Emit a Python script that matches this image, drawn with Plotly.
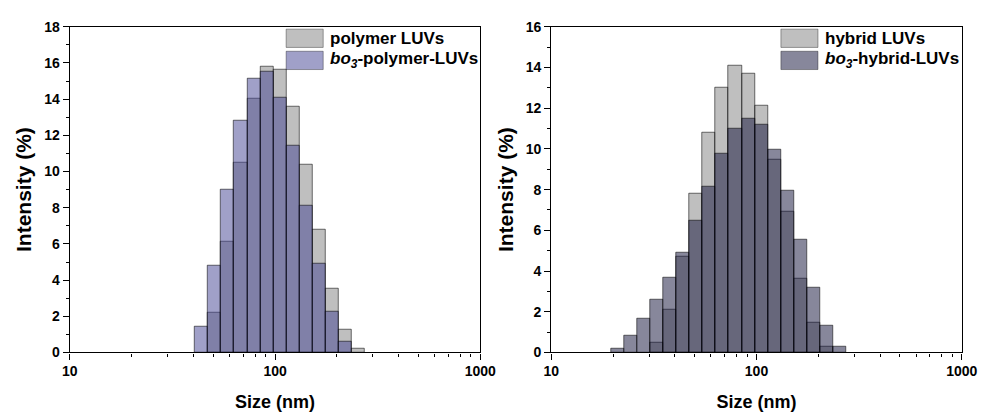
import math
import plotly.graph_objects as go

# Size classes (nm), log-spaced DLS bins
sizes = [21.04, 24.36, 28.21, 32.67, 37.84, 43.82, 50.75, 58.77, 68.06,
         78.82, 91.28, 105.7, 122.4, 141.8, 164.2, 190.1, 220.2, 255.0]

# Left panel: polymer LUVs vs bo3-polymer-LUVs (intensity %)
polymer_luvs = [None, None, None, None, None, None, 2.2, 6.1, 10.5,
                14.0, 15.8, 15.6, 13.6, 10.4, 6.8, 3.55, 1.25, 0.18]
bo3_polymer_luvs = [None, None, None, None, None, 1.45, 4.8, 9.0, 12.8,
                    15.1, 15.5, 14.1, 11.4, 8.1, 4.9, 2.25, 0.6, None]

# Right panel: hybrid LUVs vs bo3-hybrid-LUVs (intensity %)
hybrid_luvs = [None, None, None, 0.5, 2.1, 4.72, 7.8, 10.8, 13.0,
               14.1, 13.7, 12.1, 9.45, 6.9, 3.6, 1.45, 0.28, None]
bo3_hybrid_luvs = [0.17, 0.8, 1.67, 2.6, 3.65, 4.92, 6.48, 8.15, 9.78,
                   11.0, 11.5, 11.2, 9.95, 7.95, 5.55, 3.2, 1.32, 0.27]

# Bin edges: geometric midpoints between neighbouring size classes
n = len(sizes)
inner = [math.sqrt(sizes[i] * sizes[i + 1]) for i in range(n - 1)]
first = sizes[0] ** 2 / inner[0]
last = sizes[-1] ** 2 / inner[-1]
edges = [first] + inner + [last]
bar_x = [(edges[i] + edges[i + 1]) / 2 for i in range(n)]
bar_w = [edges[i + 1] - edges[i] for i in range(n)]

W, H = 995, 415
FONT = "Liberation Sans, Arial, sans-serif"

def px(x):
    return x / W

def py(y):
    return 1 - y / H

grey = "rgba(128,128,128,0.5)"
blue = "rgba(65,65,145,0.5)"
slate = "rgba(15,15,55,0.5)"
edge = dict(color="rgba(0,0,0,0.55)", width=1)

fig = go.Figure()
fig.add_trace(go.Bar(x=bar_x, y=polymer_luvs, width=bar_w, name="polymer LUVs",
                     marker=dict(color=grey, line=edge), xaxis="x", yaxis="y"))
fig.add_trace(go.Bar(x=bar_x, y=bo3_polymer_luvs, width=bar_w, name="bo3-polymer-LUVs",
                     marker=dict(color=blue, line=edge), xaxis="x", yaxis="y"))
fig.add_trace(go.Bar(x=bar_x, y=hybrid_luvs, width=bar_w, name="hybrid LUVs",
                     marker=dict(color=grey, line=edge), xaxis="x2", yaxis="y2"))
fig.add_trace(go.Bar(x=bar_x, y=bo3_hybrid_luvs, width=bar_w, name="bo3-hybrid-LUVs",
                     marker=dict(color=slate, line=edge), xaxis="x2", yaxis="y2"))

tickfont = dict(family=FONT, size=14, color="black", weight="bold")
xtitlefont = dict(family=FONT, size=18, color="black", weight="bold")
ytitlefont = dict(family=FONT, size=21, color="black", weight="bold")

def xaxis(domain, anchor):
    return dict(domain=domain, anchor=anchor, type="log", range=[1, 3],
                tickvals=[10, 100, 1000], ticktext=["10", "100", "1000"],
                ticks="outside", ticklen=6, tickwidth=1.3, tickcolor="black",
                minor=dict(ticks="outside", ticklen=3, tickwidth=1.2,
                           tickcolor="black", dtick="D1", showgrid=False),
                showline=True, linecolor="black", linewidth=1.3, mirror=True,
                showgrid=False, zeroline=False, tickfont=tickfont,
                title=dict(text="Size (nm)", font=xtitlefont, standoff=16))

def yaxis(domain, anchor, ymax):
    return dict(domain=domain, anchor=anchor, range=[0, ymax], dtick=2,
                ticks="outside", ticklen=6, tickwidth=1.3, tickcolor="black",
                minor=dict(ticks="outside", ticklen=3, tickwidth=1.2,
                           tickcolor="black", dtick=1, showgrid=False),
                showline=True, linecolor="black", linewidth=1.3, mirror=True,
                showgrid=False, zeroline=False, tickfont=tickfont,
                title=dict(text="Intensity (%)", font=ytitlefont, standoff=6))

ydom = [py(358.3), py(19.5)]
fig.update_layout(
    width=W, height=H, margin=dict(l=0, r=0, t=0, b=0),
    paper_bgcolor="white", plot_bgcolor="white",
    barmode="overlay", bargap=0, showlegend=False,
    xaxis=xaxis([px(63.3), px(484)], "y"),
    yaxis=yaxis(ydom, "x", 18),
    xaxis2=xaxis([px(556.7), px(977.3)], "y2"),
    yaxis2=yaxis(ydom, "x2", 16),
)

# Manual legends (large swatches like the original)
legend_items = [
    (285, 22, grey, "<b>polymer LUVs</b>"),
    (285, 45, blue, "<b><i>bo<sub>3</sub></i>-polymer-LUVs</b>"),
    (792, 22, grey, "<b>hybrid LUVs</b>"),
    (792, 45, slate, "<b><i>bo<sub>3</sub></i>-hybrid-LUVs</b>"),
]
for x0, y0, col, label in legend_items:
    fig.add_shape(type="rect", xref="paper", yref="paper",
                  x0=px(x0), x1=px(x0 + 38), y0=py(y0), y1=py(y0 + 19),
                  fillcolor=col, line=dict(color="rgba(0,0,0,0.35)", width=1))
    fig.add_annotation(xref="paper", yref="paper", x=px(x0 + 43), y=py(y0 + 9.5),
                       text=label, showarrow=False, xanchor="left", yanchor="middle",
                       font=dict(family=FONT, size=17, color="black"))

fig.write_html("out.html")
